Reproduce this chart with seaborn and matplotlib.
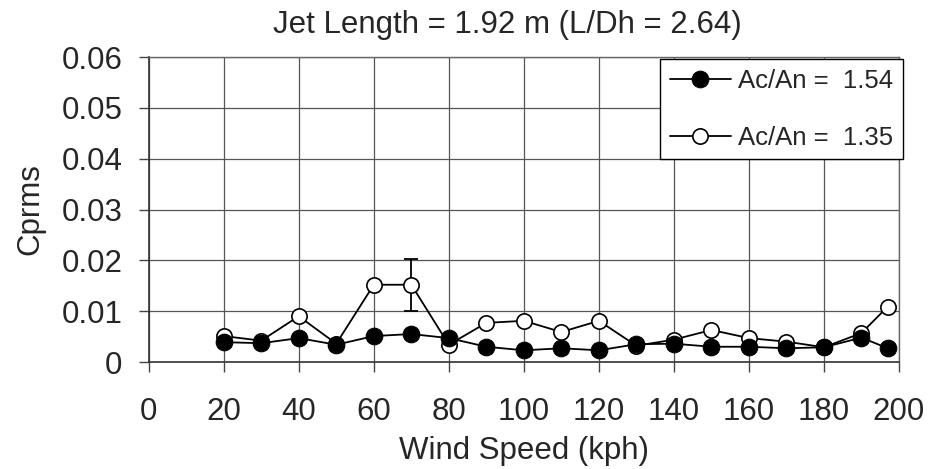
import matplotlib
matplotlib.use("Agg")
import matplotlib.pyplot as plt
import seaborn as sns
import pandas as pd

wind_speed = [20, 30, 40, 50, 60, 70, 80, 90, 100, 110, 120, 130, 140, 150, 160, 170, 180, 190, 197]
cprms_154 = [0.0039, 0.0037, 0.0047, 0.0034, 0.0051, 0.0055, 0.0047, 0.0030, 0.0023, 0.0027, 0.0023,
             0.0035, 0.0036, 0.0030, 0.0030, 0.0027, 0.0029, 0.0048, 0.0027]
cprms_135 = [0.0051, 0.0042, 0.0090, 0.0036, 0.0152, 0.0152, 0.0034, 0.0077, 0.0081, 0.0059, 0.0081,
             0.0032, 0.0044, 0.0063, 0.0047, 0.0040, 0.0029, 0.0057, 0.0109]
err_x = [70]
err_y = [0.0152]
err_size = [0.0051]
label_154 = "Ac/An =  1.54"
label_135 = "Ac/An =  1.35"
title = "Jet Length = 1.92 m (L/Dh = 2.64)"
x_ticks = [0, 20, 40, 60, 80, 100, 120, 140, 160, 180, 200]
y_ticks = [0, 0.01, 0.02, 0.03, 0.04, 0.05, 0.06]
y_tick_labels = ["0", "0.01", "0.02", "0.03", "0.04", "0.05", "0.06"]

sns.set_style("white")
plt.rcParams['font.family'] = ['Liberation Sans', 'DejaVu Sans']

W, H = 931, 469
fig = plt.figure(figsize=(W / 100, H / 100), dpi=100)
ax = fig.add_axes([148.7 / W, 1 - 362 / H, (899 - 148.7) / W, (362 - 57) / H])

df135 = pd.DataFrame({"x": wind_speed, "y": cprms_135})
df154 = pd.DataFrame({"x": wind_speed, "y": cprms_154})

sns.lineplot(data=df135, x="x", y="y", ax=ax, color="black", linewidth=1.3,
             marker="o", markersize=11, markerfacecolor="white", markeredgecolor="black",
             markeredgewidth=1.2, label=label_135, zorder=3)
sns.lineplot(data=df154, x="x", y="y", ax=ax, color="black", linewidth=1.3,
             marker="o", markersize=12, markerfacecolor="black", markeredgecolor="black",
             label=label_154, zorder=4)
ax.errorbar(err_x, err_y, yerr=err_size, fmt="none", ecolor="black", elinewidth=1.3,
            capsize=5, capthick=1.3, zorder=2)

ax.set_xlim(0, 200)
ax.set_ylim(0, 0.06)
ax.set_xticks(x_ticks)
ax.set_yticks(y_ticks)
ax.set_yticklabels(y_tick_labels)
ax.grid(True, color="#555555", linewidth=0.9)
ax.set_axisbelow(True)
for s in ["top", "right"]:
    ax.spines[s].set_color("#666666")
    ax.spines[s].set_linewidth(1.0)
for s in ["left", "bottom"]:
    ax.spines[s].set_color("#333333")
    ax.spines[s].set_linewidth(1.2)
ax.tick_params(axis="both", which="major", labelsize=22.5, direction="out",
               length=7, width=1.0, color="#444444", left=True, bottom=True)
ax.tick_params(axis="x", pad=18)
ax.tick_params(axis="y", pad=12)

ax.set_xlabel("Wind Speed (kph)", fontsize=22.5)
ax.set_ylabel("Cprms", fontsize=22.5)
ax.xaxis.set_label_coords(0.5, (362 - 436) / 305)
ax.yaxis.set_label_coords((45 - 148.7) / 750.3, 0.5)
fig.text(507 / W, 1 - 33 / H, title, fontsize=22.5, ha="center", va="baseline")

handles, labels = ax.get_legend_handles_labels()
order = [labels.index(label_154), labels.index(label_135)]
leg = ax.legend([handles[i] for i in order], [labels[i] for i in order],
                loc="upper right", bbox_to_anchor=(903 / W, 1 - 59 / H),
                bbox_transform=fig.transFigure, borderaxespad=0, fontsize=18.5,
                frameon=True, fancybox=False, edgecolor="black", framealpha=1,
                handlelength=2.4, handletextpad=0.27, labelspacing=1.28,
                borderpad=0.38)
leg.get_frame().set_linewidth(1.0)

fig.savefig("out.png", dpi=100)
